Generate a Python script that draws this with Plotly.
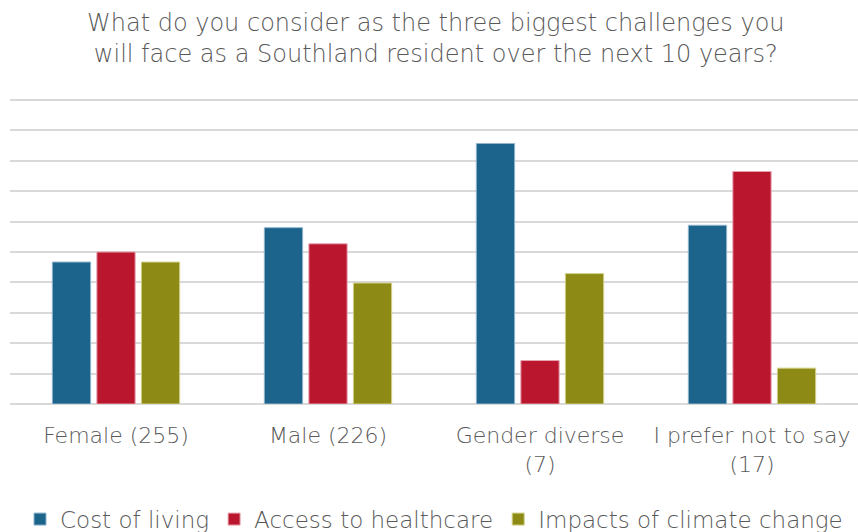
import plotly.graph_objects as go

# Respondent groups (with sample sizes) and share naming each challenge
categories = ["Female (255)", "Male (226)", "Gender diverse<br>(7)", "I prefer not to say<br>(17)"]
cost_of_living = [0.467, 0.580, 0.857, 0.588]
access_to_healthcare = [0.500, 0.527, 0.143, 0.765]
climate_change = [0.467, 0.398, 0.429, 0.118]

series = [
    ("Cost of living", cost_of_living, "#1D648C", "#8FB4CC"),
    ("Access to healthcare", access_to_healthcare, "#BA172F", "#E6A3AE"),
    ("Impacts of climate change", climate_change, "#8D8A16", "#D2D08A"),
]

FONT = "DejaVu Sans"
GREY = "#595959"
W = 200

fig = go.Figure()
for name, values, color, edge in series:
    fig.add_trace(go.Bar(
        x=categories, y=values, name=name,
        marker=dict(color=color, line=dict(color=edge, width=1)),
    ))

fig.add_annotation(
    text="What do you consider as the three biggest challenges you<br>will face as a Southland resident over the next 10 years?",
    xref="paper", yref="paper", x=0.502, y=1.19, xanchor="center", yanchor="middle",
    showarrow=False, font=dict(family=FONT, size=24, color=GREY, weight=W),
)

fig.update_layout(
    width=858, height=532,
    margin=dict(l=10, r=0, t=97, b=128, autoexpand=False),
    paper_bgcolor="white", plot_bgcolor="white",
    barmode="group", bargap=0.37, bargroupgap=0.14,
    font=dict(family=FONT, color=GREY, size=22, weight=W),
    legend=dict(
        orientation="h", x=0.5, xanchor="center",
        y=-0.375, yanchor="middle",
        font=dict(family=FONT, size=23, color=GREY, weight=W),
        itemwidth=30, tracegroupgap=0,
    ),
    showlegend=True,
)
fig.update_xaxes(showgrid=False, showline=False, ticks="", ticklabelstandoff=16, automargin=False,
                 tickfont=dict(family=FONT, size=22, color=GREY, weight=W))
fig.update_yaxes(range=[0, 1.01], dtick=0.1, showticklabels=False, automargin=False,
                 showgrid=True, gridcolor="#D9D9D9", gridwidth=1.5,
                 zeroline=True, zerolinecolor="#D9D9D9", zerolinewidth=1.5)

fig.write_html("out.html")
